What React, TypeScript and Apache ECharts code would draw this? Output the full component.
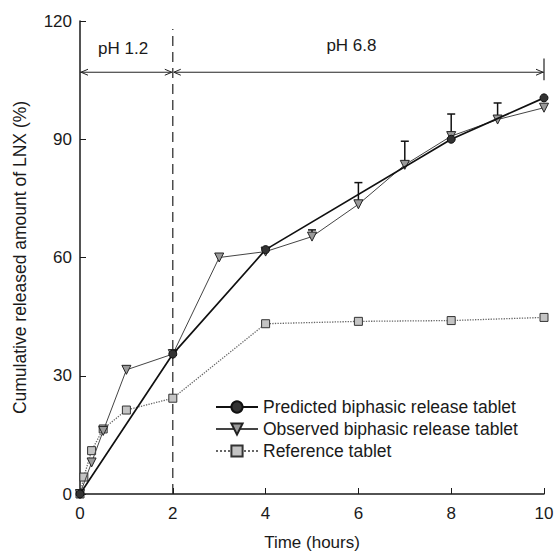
import React, { useEffect, useRef } from "react";
import * as echarts from "echarts";

// ---- data ----
const predictedTime = [0, 2, 4, 8, 10];
const predicted = [0, 35.5, 62, 90, 100.5];

const observedTime = [0, 0.25, 0.5, 1, 2, 3, 4, 5, 6, 7, 8, 9, 10];
const observed = [0, 8, 16, 31.5, 35.5, 60, 61.5, 65.3, 73.5, 83.5, 90.8, 95, 98];

const errorTime = [5, 6, 7, 8, 9];
const errorLow = [65.3, 73.5, 83.5, 90.8, 95];
const errorHigh = [67, 79, 89.5, 96.4, 99.2];

const referenceTime = [0, 0.083, 0.25, 0.5, 1, 2, 4, 6, 8, 10];
const reference = [0, 4.3, 11, 16.5, 21.3, 24.3, 43.2, 43.8, 44, 44.8];

const xTicks = [0, 2, 4, 6, 8, 10];
const yTicks = [0, 30, 60, 90, 120];

const seriesNames = [
  "Predicted biphasic release tablet",
  "Observed biphasic release tablet",
  "Reference tablet",
];

// annotation (data coordinates)
const phBoundary = 2;
const phEnd = 10;
const arrowLevel = 107;
const dashedTop = 118;
const endBar = [105, 110.5];
const phLabels = [
  { text: "pH 1.2", x: 0.93, y: 113 },
  { text: "pH 6.8", x: 5.85, y: 113.8 },
];

const FONT = "'Liberation Sans', Arial, Helvetica, sans-serif";
const INK = "#1a1a1a";
const FS = 17;

export default function App() {
  const ref = useRef<HTMLDivElement>(null);

  useEffect(() => {
    if (!ref.current) return;
    const chart = echarts.init(ref.current, undefined, { renderer: "svg" });

    const zip = (xs: number[], ys: number[]) => xs.map((x, i) => [x, ys[i]]);

    const option: any = {
      animation: false,
      backgroundColor: "#ffffff",
      textStyle: { fontFamily: FONT },
      grid: { left: 80, right: 13, top: 21, bottom: 63, containLabel: false },
      xAxis: {
        type: "value",
        min: xTicks[0],
        max: xTicks[xTicks.length - 1],
        interval: 2,
        name: "Time (hours)",
        nameLocation: "middle",
        nameGap: 40,
        nameTextStyle: { fontSize: FS, color: INK, fontFamily: FONT },
        axisLine: { show: true, lineStyle: { color: INK, width: 1.5 } },
        axisTick: { show: true, inside: true, length: 6, lineStyle: { color: INK, width: 1 } },
        axisLabel: { fontSize: FS, color: INK, margin: 11, fontFamily: FONT },
        splitLine: { show: false },
      },
      yAxis: {
        type: "value",
        min: yTicks[0],
        max: yTicks[yTicks.length - 1],
        interval: 30,
        name: "Cumulative released amount of LNX (%)",
        nameLocation: "middle",
        nameGap: 51,
        nameRotate: 90,
        nameTextStyle: { fontSize: 17.5, color: INK, fontFamily: FONT },
        axisLine: { show: true, lineStyle: { color: INK, width: 1.5 } },
        axisTick: { show: true, inside: true, length: 6, lineStyle: { color: INK, width: 1 } },
        axisLabel: { fontSize: FS, color: INK, margin: 8, fontFamily: FONT },
        splitLine: { show: false },
      },
      legend: {
        data: seriesNames,
        orient: "vertical",
        left: 210,
        top: 393,
        itemWidth: 42,
        itemHeight: 14,
        itemGap: 4,
        textStyle: { fontSize: 17.5, color: INK, fontFamily: FONT },
      },
      series: [
        {
          name: seriesNames[0],
          type: "line",
          data: zip(predictedTime, predicted),
          symbol: "circle",
          symbolSize: 8,
          lineStyle: { color: "#111", width: 1.7 },
          itemStyle: { color: "#333", borderColor: "#111", borderWidth: 1 },
          z: 4,
        },
        {
          name: seriesNames[1],
          type: "line",
          data: zip(observedTime, observed),
          symbol: "triangle",
          symbolRotate: 180,
          symbolSize: 9,
          lineStyle: { color: "#444", width: 1 },
          itemStyle: { color: "#9a9a9a", borderColor: "#222", borderWidth: 1 },
          z: 3,
        },
        {
          name: seriesNames[2],
          type: "line",
          data: zip(referenceTime, reference),
          symbol: "rect",
          symbolSize: 8,
          lineStyle: { color: "#666", width: 1.3, type: "dotted" },
          itemStyle: { color: "#c4c4c4", borderColor: "#333", borderWidth: 1 },
          z: 2,
        },
        {
          name: "error",
          type: "custom",
          data: errorTime.map((t, i) => [t, errorLow[i], errorHigh[i]]),
          encode: { x: 0, y: [1, 2] },
          z: 1,
          renderItem: (params: any, api: any) => {
            const x = api.value(0);
            const lo = api.coord([x, api.value(1)]);
            const hi = api.coord([x, api.value(2)]);
            const style = { stroke: "#111", lineWidth: 1.5 };
            return {
              type: "group",
              children: [
                { type: "line", shape: { x1: lo[0], y1: lo[1], x2: hi[0], y2: hi[1] }, style },
                { type: "line", shape: { x1: hi[0] - 4, y1: hi[1], x2: hi[0] + 4, y2: hi[1] }, style },
              ],
            };
          },
        },
        {
          name: "annotation",
          type: "custom",
          data: [[0]],
          z: 1,
          silent: true,
          renderItem: (params: any, api: any) => {
            const a = api.coord([0, arrowLevel]);
            const b = api.coord([phBoundary, arrowLevel]);
            const c = api.coord([phEnd, arrowLevel]);
            const d0 = api.coord([phBoundary, 0]);
            const d1 = api.coord([phBoundary, dashedTop]);
            const e0 = api.coord([phEnd, endBar[0]]);
            const e1 = api.coord([phEnd, endBar[1]]);
            const s = { stroke: "#222", lineWidth: 1, fill: "none" };
            const head = (x: number, y: number, dir: number) => ({
              type: "polyline",
              shape: { points: [[x + dir * 7, y - 3], [x, y], [x + dir * 7, y + 3]] },
              style: s,
            });
            const children: any[] = [
              { type: "line", shape: { x1: a[0], y1: a[1], x2: b[0] - 1, y2: b[1] }, style: s },
              { type: "line", shape: { x1: b[0] + 1, y1: b[1], x2: c[0], y2: c[1] }, style: s },
              head(a[0] + 1, a[1], 1),
              head(b[0] - 1, b[1], -1),
              head(b[0] + 1, b[1], 1),
              head(c[0] - 1, c[1], -1),
              { type: "line", shape: { x1: e0[0], y1: e0[1], x2: e1[0], y2: e1[1] }, style: { stroke: "#222", lineWidth: 1.2 } },
              {
                type: "line",
                shape: { x1: d0[0], y1: d0[1], x2: d1[0], y2: d1[1] },
                style: { stroke: "#222", lineWidth: 1.2, lineDash: [10, 6] },
              },
            ];
            phLabels.forEach((l) => {
              const p = api.coord([l.x, l.y]);
              children.push({
                type: "text",
                style: {
                  text: l.text,
                  x: p[0],
                  y: p[1],
                  fill: INK,
                  fontSize: FS,
                  fontFamily: FONT,
                  align: "center",
                  verticalAlign: "middle",
                },
              });
            });
            return { type: "group", children };
          },
        },
      ],
    };

    chart.setOption(option);
    return () => chart.dispose();
  }, []);

  return (
    <div
      ref={ref}
      style={{ position: "absolute", left: 0, top: 0, width: 557, height: 557, background: "#fff" }}
    />
  );
}
